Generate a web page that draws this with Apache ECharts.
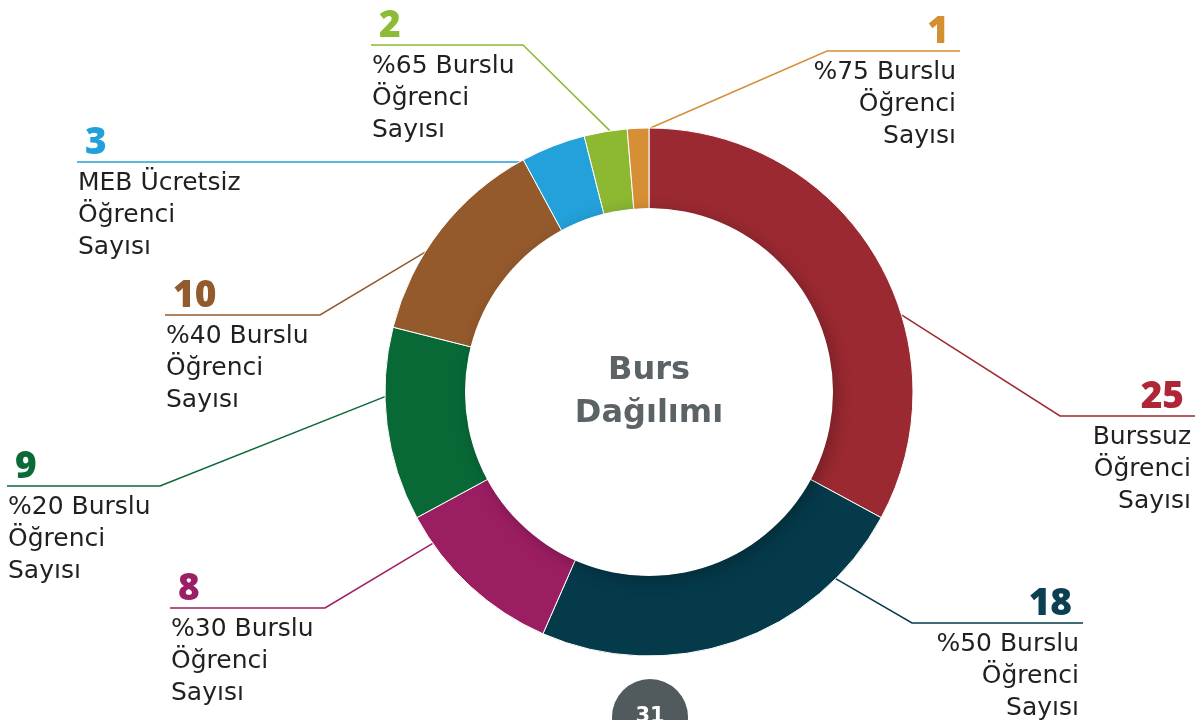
<!DOCTYPE html>
<html>
<head>
<meta charset="utf-8">
<script src="https://cdn.jsdelivr.net/npm/echarts@6/dist/echarts.min.js"></script>
<style>
  html, body { margin: 0; padding: 0; background: #fff; }
  #chart { width: 1195px; height: 720px; }
</style>
</head>
<body>
<div id="chart"></div>
<script>
// veriler
var categories = ['Burssuz\nÖğrenci\nSayısı', '%50 Burslu\nÖğrenci\nSayısı', '%30 Burslu\nÖğrenci\nSayısı',
                  '%20 Burslu\nÖğrenci\nSayısı', '%40 Burslu\nÖğrenci\nSayısı', 'MEB Ücretsiz\nÖğrenci\nSayısı',
                  '%65 Burslu\nÖğrenci\nSayısı', '%75 Burslu\nÖğrenci\nSayısı'];
var values = [25, 18, 8, 9, 10, 3, 2, 1];

var sliceColors = ['#9b2931', '#053a4b', '#9c1e62', '#086937', '#955a2c', '#23a1da', '#8cb832', '#d68f35'];
var numberColors = ['#ae2637', '#0b3f52', '#9c1f66', '#0a6a38', '#935a2c', '#22a0da', '#8cbb35', '#d58f33'];

// etiket yerleşimi (çizgi başlangıç açısı, kırılma noktası, çizgi sonu)
var cx = 649, cy = 392, rIn = 183, rOut = 264;
var anchorAngles = [73, 135, 235, 269, 302, 330.6, 351.5, 0.3];
var elbows = [[1060, 416], [912, 623], [325, 608], [160, 486], [320, 315], [519, 162], [523, 45], [827, 51]];
var lineEnds = [1195, 1083, 170, 7, 165, 77, 371, 960];
var sides = ['right', 'right', 'left', 'left', 'left', 'left', 'left', 'right'];

var chart = echarts.init(document.getElementById('chart'));

var pieData = values.map(function (v, i) {
    return { name: categories[i], value: v, itemStyle: { color: sliceColors[i] } };
});

var option = {
    animation: false,
    textStyle: { fontFamily: 'DejaVu Sans' },
    series: [
        {
            type: 'pie',
            center: [cx, cy],
            radius: [rIn, rOut],
            startAngle: 90,
            clockwise: true,
            avoidLabelOverlap: false,
            silent: true,
            itemStyle: { borderColor: '#fff', borderWidth: 1 },
            label: {
                show: true,
                position: 'outside',
                formatter: function (p) {
                    var s = sides[p.dataIndex] === 'right' ? 'R' : 'L';
                    return '{n' + s + p.dataIndex + '|' + p.value + '}\n{t' + s + '|' + p.name.split('\n').join('}\n{t' + s + '|') + '}';
                },
                rich: (function () {
                    var r = {
                        tR: { fontSize: 25, lineHeight: 32, color: '#231f20', align: 'right', fontFamily: 'DejaVu Sans' },
                        tL: { fontSize: 25, lineHeight: 32, color: '#231f20', align: 'left', fontFamily: 'DejaVu Sans' }
                    };
                    values.forEach(function (v, i) {
                        var right = sides[i] === 'right';
                        r['n' + (right ? 'R' : 'L') + i] = {
                            fontSize: 37, fontWeight: 900, lineHeight: 48, color: numberColors[i],
                            align: sides[i], fontFamily: 'Noto Sans',
                            padding: right ? [0, 7, 0, 0] : [0, 0, 0, 7]
                        };
                    });
                    return r;
                })()
            },
            labelLine: { show: true, lineStyle: { width: 1.5 } },
            labelLayout: function (params) {
                var i = params.dataIndex;
                var a = anchorAngles[i] * Math.PI / 180;
                var start = [cx + rOut * Math.sin(a), cy - rOut * Math.cos(a)];
                var lineY = elbows[i][1];
                var right = sides[i] === 'right';
                return {
                    x: right ? lineEnds[i] - 4 : lineEnds[i] + 1,
                    y: lineY - 43,
                    align: sides[i],
                    verticalAlign: 'top',
                    labelLinePoints: [start, elbows[i], [lineEnds[i], lineY]]
                };
            },
            data: pieData
        },
        {
            type: 'pie',
            center: [cx, cy],
            radius: [0, rIn + 1],
            silent: true,
            itemStyle: {
                color: '#ffffff',
                shadowBlur: 16,
                shadowColor: 'rgba(0,0,0,0.25)',
                shadowOffsetX: 4,
                shadowOffsetY: 4
            },
            label: {
                show: true,
                position: 'center',
                formatter: 'Burs\nDağılımı',
                fontSize: 32,
                fontWeight: 'bold',
                lineHeight: 43,
                color: '#5b6366',
                fontFamily: 'DejaVu Sans'
            },
            labelLine: { show: false },
            data: [{ value: 1, name: 'Burs Dağılımı' }]
        }
    ],
    graphic: [
        { type: 'circle', shape: { cx: 650, cy: 717, r: 38 }, style: { fill: '#515b5e' }, silent: true },
        { type: 'text', x: 650, y: 706, style: { text: '31', fill: '#fff', font: 'bold 21px "DejaVu Sans"', align: 'center', verticalAlign: 'top' }, silent: true }
    ]
};

chart.setOption(option);
</script>
</body>
</html>
